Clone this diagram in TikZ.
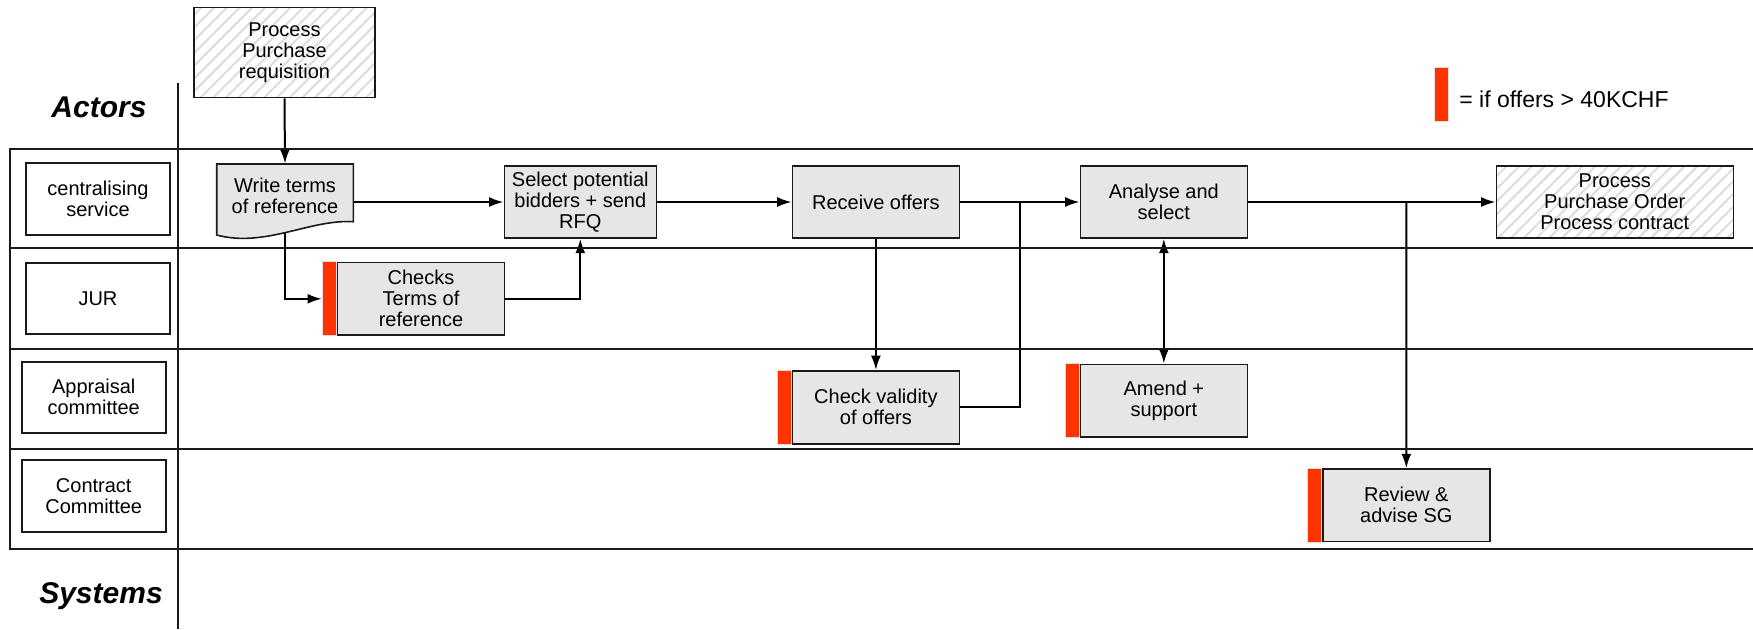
\documentclass[tikz,border=0pt]{standalone}
\usepackage{fontspec}
\setmainfont{Liberation Sans}
\usetikzlibrary{arrows.meta,patterns.meta}
\pgfdeclarelayer{bg}
\pgfsetlayers{bg,main}
\definecolor{boxgray}{HTML}{E6E6E6}
\definecolor{flagred}{HTML}{FF3300}
\definecolor{flagedge}{HTML}{EADADA}
\definecolor{hatch}{HTML}{DCDCDC}
\definecolor{ink}{HTML}{1A1A1A}

\begin{document}
\begin{tikzpicture}[x=0.5pt,y=-0.5pt,
  lane/.style={line width=1pt,draw=ink},
  boxtext/.style={font=\fontsize{10}{10.5}\selectfont,align=center,inner sep=0pt},
  actor/.style={boxtext,draw=ink,line width=0.9pt,fill=white},
  stepbox/.style={boxtext,draw=ink,line width=0.8pt,fill=boxgray},
  hatchbox/.style={boxtext,draw=ink,line width=0.8pt,
    pattern={Lines[angle=45,distance=4.5pt,line width=1pt]},pattern color=hatch},
  flag/.style={fill=flagred,draw=flagedge,line width=0.4pt,inner sep=0pt,minimum width=7pt},
  heading/.style={font=\fontsize{15}{18}\selectfont\bfseries\itshape,inner sep=0pt},
  link/.style={line width=1pt,draw=black},
  conn/.style={link,-{Latex[length=7.2pt,width=5pt]}},
  biconn/.style={link,{Latex[length=7.2pt,width=5pt]}-{Latex[length=7.2pt,width=5pt]}},
]
\useasboundingbox (0,0) rectangle (1753,629);

% swimlane frame
\draw[lane] (1753,148.7) -- (9.6,148.7) -- (9.6,549.3) -- (1753,549.3);
\draw[lane] (9.6,248.3) -- (1753,248.3);
\draw[lane] (9.6,349) -- (1753,349);
\draw[lane] (9.6,449.3) -- (1753,449.3);
\draw[lane] (178,83) -- (178,629);

% section headings
\node[heading] (actors) at (99,107) {Actors};
\node[heading] (systems) at (101,596) {Systems};

% actor labels
\node[actor,minimum width=72.35pt,minimum height=36.15pt] (cs)  at (98,198.8)   {centralising\\service};
\node[actor,minimum width=72.35pt,minimum height=35.8pt]  (jur) at (98,298.5)   {JUR};
\node[actor,minimum width=71.95pt,minimum height=35.5pt]  (apc) at (93.75,397.2) {Appraisal\\committee};
\node[actor,minimum width=71.95pt,minimum height=35.85pt] (coc) at (93.75,495.85) {Contract\\Committee};

% legend
\node[flag,minimum height=27pt] (legflag) at (1441.6,94.7) {};
\node[anchor=west,inner sep=0pt,font=\fontsize{11.5}{13}\selectfont] (legtext) at (1459,99.3) {= if offers > 40KCHF};

% input / output processes
\node[hatchbox,minimum width=90.5pt,minimum height=45pt] (ppr) at (284.5,52.3) {Process\\Purchase\\requisition};
\node[hatchbox,minimum width=118.5pt,minimum height=36pt] (ppo) at (1614.8,202) {Process\\Purchase Order\\Process contract};

% document-shaped step
\draw[ink,line width=0.8pt,fill=boxgray]
  (216.7,164) -- (353.3,164) -- (353.3,221.7)
  .. controls (310,219) and (265,248) .. (216.7,235) -- cycle;
\node[boxtext,minimum width=68.3pt,minimum height=32pt] (wtr) at (285,196) {Write terms\\of reference};

% process steps
\node[stepbox,minimum width=76pt,minimum height=36pt]   (sel) at (580.3,202)  {Select potential\\bidders + send\\RFQ};
\node[stepbox,minimum width=83.5pt,minimum height=36pt] (rec) at (875.9,202)  {Receive offers};
\node[stepbox,minimum width=83.5pt,minimum height=36pt] (ana) at (1163.85,202) {Analyse and\\select};
\node[stepbox,minimum width=83.5pt,minimum height=36.25pt] (chk) at (421,298.8) {Checks\\Terms of\\reference};
\node[stepbox,minimum width=83.5pt,minimum height=36.5pt] (cv)  at (875.9,407.3) {Check validity\\of offers};
\node[stepbox,minimum width=83.5pt,minimum height=36.2pt] (amd) at (1163.85,400.5) {Amend +\\support};
\node[stepbox,minimum width=83.65pt,minimum height=36.35pt] (rev) at (1406.35,505.3) {Review \&\\advise SG};

% markers for steps above 40KCHF
\node[flag,anchor=east,minimum height=37pt]   (chkflag) at (chk.west) {};
\node[flag,anchor=east,minimum height=37.2pt] (cvflag)  at (cv.west)  {};
\node[flag,anchor=east,minimum height=36.8pt] (amdflag) at (amd.west) {};
\node[flag,anchor=east,minimum height=36.8pt] (revflag) at (rev.west) {};

% junctions on the main flow
\coordinate (j1) at (1020,202);
\coordinate (j2) at (1406.3,202);

% flow connectors
\begin{pgfonlayer}{bg}
\draw[conn] (ppr.south) -- (wtr.north);
\draw[conn] (wtr.east |- sel.west) -- (sel.west);
\draw[conn] (wtr.south) |- (chkflag.west);
\draw[conn] (chk.east) -| (sel.south);
\draw[conn] (sel.east) -- (rec.west);
\draw[conn] (rec.south) -- (cv.north);
\draw[conn] (rec.east) -- (ana.west);
\draw[link] (cv.east) -| (j1);
\draw[biconn] (ana.south) -- (amd.north);
\draw[conn] (ana.east) -- (ppo.west);
\draw[conn] (j2) -- (rev.north);
\end{pgfonlayer}
\end{tikzpicture}
\end{document}
